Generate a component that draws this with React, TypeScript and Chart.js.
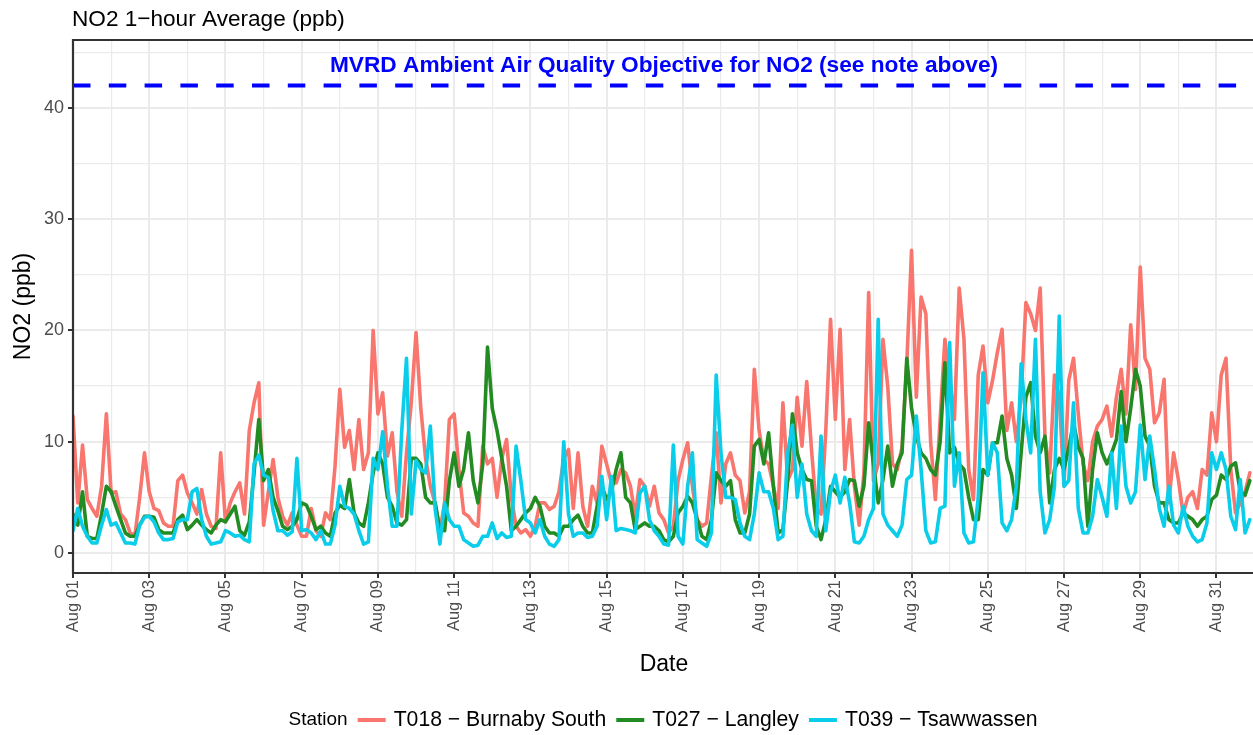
import React, { useEffect, useRef } from "react";
import { Chart, registerables } from "chart.js";

Chart.register(...registerables);

// ---- data (3-hourly readings, starting Aug 01 00:00) ----
const HOUR_STEP = 3;

const T018_BURNABY = [
  12.3, 4.5, 9.7, 4.8, 4.0, 3.3, 6.0, 12.5,
  5.4, 5.5, 3.5, 3.0, 1.8, 1.6, 5.0, 9.0,
  5.5, 4.0, 3.8, 2.7, 2.4, 2.4, 6.5, 7.0,
  5.4, 4.5, 3.5, 5.7, 3.5, 2.4, 2.2, 9.0,
  2.8, 4.5, 5.5, 6.3, 3.5, 11.0, 13.5, 15.3,
  2.5, 5.5, 8.4, 5.0, 3.3, 2.5, 3.6, 2.5,
  1.5, 1.5, 4.0, 2.0, 1.5, 3.6, 3.0, 7.8,
  14.7, 9.5, 11.0, 7.5, 12.0, 7.5, 9.0, 20.0,
  12.5, 14.4, 8.7, 10.8, 5.5, 3.3, 9.0, 13.5,
  19.8, 13.0, 8.5, 6.0, 4.5, 2.0, 4.5, 12.0,
  12.5, 7.5, 3.6, 3.3, 2.7, 2.4, 9.6, 8.0,
  8.5, 5.0, 8.5, 10.2, 5.0, 2.4, 1.8, 2.1,
  1.5, 2.4, 4.5, 4.5, 3.9, 4.2, 5.5, 8.5,
  9.3, 4.0, 9.0, 4.2, 2.4, 6.0, 4.5, 9.6,
  8.0, 6.3, 6.3, 7.5, 7.2, 6.0, 3.3, 6.6,
  6.0, 4.2, 6.0, 3.6, 3.0, 1.8, 2.4, 6.5,
  8.4, 9.9, 6.0, 3.0, 2.4, 2.7, 6.9, 10.8,
  4.5, 8.0, 9.0, 7.0, 6.5, 3.6, 5.5, 16.5,
  11.0, 8.4, 8.0, 6.0, 4.0, 13.5, 6.5, 7.5,
  14.0, 9.6, 15.4, 9.3, 4.0, 3.5, 11.0, 21.0,
  12.0, 20.1, 7.5, 12.0, 6.0, 2.5, 7.2, 23.4,
  6.5, 8.0, 19.2, 15.0, 8.0, 7.5, 9.5, 17.0,
  27.2, 14.0, 23.0, 21.5, 10.0, 4.8, 12.0, 19.2,
  15.5, 12.0, 23.8, 19.2, 7.5, 4.8, 16.0, 18.6,
  13.5, 15.5, 18.0, 20.1, 11.0, 13.5, 10.0, 14.0,
  22.5, 21.5, 20.0, 23.8, 10.5, 7.2, 16.0, 14.0,
  6.0, 15.5, 17.5, 12.5, 8.0, 6.5, 10.0, 11.4,
  12.0, 13.2, 10.5, 14.0, 16.5, 12.5, 20.5, 14.7,
  25.7, 17.5, 16.5, 11.7, 12.6, 15.6, 4.5, 9.0,
  6.6, 3.5, 5.0, 5.5, 4.0, 7.5, 7.0, 12.6,
  10.0, 16.0, 17.5, 7.5, 3.6, 4.5, 5.5, 7.2,
];

const T027_LANGLEY = [
  3.5, 2.5, 5.5, 1.5, 1.3, 1.3, 3.5, 6.0,
  5.5, 4.2, 3.0, 1.8, 1.5, 1.5, 2.5, 3.3,
  3.3, 3.2, 2.1, 1.8, 1.8, 1.8, 3.0, 3.4,
  2.1, 2.5, 3.0, 2.5, 2.1, 1.8, 2.5, 3.0,
  2.8, 3.5, 4.2, 2.0, 1.6, 2.8, 7.2, 12.0,
  6.5, 7.5, 5.0, 3.8, 2.4, 2.1, 2.4, 3.0,
  4.5, 4.3, 3.3, 2.1, 2.4, 1.8, 1.5, 3.6,
  4.3, 4.0, 6.6, 3.6, 2.7, 2.4, 4.5, 7.2,
  9.0, 8.0, 5.0, 4.2, 2.7, 2.5, 3.0, 8.5,
  8.5, 8.0, 5.0, 4.5, 4.5, 2.1, 2.0, 6.5,
  9.0, 6.0, 7.5, 10.8, 6.5, 4.5, 8.0, 18.5,
  13.0, 11.0, 8.5, 6.0, 2.0, 2.4, 3.0, 3.6,
  4.0, 5.0, 4.2, 2.4, 1.8, 1.8, 1.5, 2.4,
  2.4, 3.0, 3.4, 2.4, 1.8, 1.8, 4.2, 6.0,
  4.8, 5.5, 7.5, 9.0, 5.0, 4.5, 2.1, 2.4,
  2.7, 2.4, 2.4, 2.0, 1.2, 1.0, 1.5, 3.6,
  4.2, 5.1, 4.5, 3.0, 1.5, 1.2, 3.0, 7.2,
  6.5, 6.0, 6.5, 3.0, 1.8, 1.8, 3.5, 9.6,
  10.2, 8.0, 10.8, 6.0, 1.8, 2.1, 6.5, 12.5,
  9.0, 7.5, 6.6, 6.5, 2.4, 1.2, 3.0, 6.0,
  5.5, 5.0, 5.5, 6.6, 6.5, 4.2, 6.0, 11.7,
  8.0, 4.5, 6.6, 9.6, 6.0, 8.0, 9.0, 17.5,
  13.0, 10.5, 9.0, 8.5, 7.5, 7.0, 10.0, 17.1,
  9.0, 9.5, 8.0, 7.5, 5.0, 3.0, 3.0, 7.5,
  7.0, 9.9, 9.9, 12.3, 8.5, 7.0, 4.0, 9.0,
  14.0, 15.3, 10.5, 9.0, 10.5, 4.5, 7.5, 8.5,
  7.5, 9.5, 11.7, 9.5, 8.5, 2.4, 7.5, 10.8,
  9.0, 8.0, 9.0, 10.2, 14.5, 10.0, 13.0, 16.5,
  15.0, 10.5, 9.6, 6.0, 4.5, 4.5, 3.0, 2.7,
  2.7, 3.6, 3.3, 3.0, 2.4, 3.0, 3.3, 4.8,
  5.2, 7.0, 6.6, 7.8, 8.1, 5.5, 5.2, 6.5,
];

const T039_TSAWWASSEN = [
  2.0, 4.0, 2.4, 1.5, 0.9, 0.9, 2.5, 3.9,
  2.5, 2.7, 1.8, 0.9, 0.9, 0.8, 2.5, 3.2,
  3.3, 2.8, 1.8, 1.2, 1.2, 1.3, 2.8, 3.0,
  3.0, 5.5, 5.8, 3.0, 1.5, 0.8, 0.9, 1.0,
  2.0, 1.8, 1.5, 1.6, 1.2, 1.0, 8.0, 8.8,
  7.0, 6.8, 3.8, 2.0, 2.0, 1.6, 1.9, 8.5,
  2.0, 2.1, 1.8, 1.2, 2.0, 0.8, 0.8, 2.5,
  6.0, 4.2, 4.0, 3.5, 2.0, 0.8, 1.0, 8.5,
  7.5, 10.9, 6.0, 2.4, 2.4, 11.0, 17.5, 3.5,
  8.3, 7.5, 7.2, 11.4, 4.0, 0.8, 4.5, 3.0,
  2.4, 2.4, 1.2, 0.9, 0.6, 0.7, 1.5, 1.5,
  2.7, 1.3, 1.8, 1.4, 1.5, 9.6, 6.5, 3.0,
  2.7, 1.8, 3.0, 1.5, 0.8, 0.6, 1.2, 10.0,
  3.5, 1.5, 1.8, 1.8, 1.4, 1.5, 2.4, 6.9,
  3.0, 6.9, 2.0, 2.2, 2.1, 2.0, 1.8, 5.4,
  6.0, 3.0, 2.0, 1.5, 0.8, 0.7, 9.7, 1.5,
  0.8, 6.0, 9.0, 1.2, 0.9, 0.6, 1.8, 16.0,
  9.0, 5.0, 5.0, 4.8, 2.7, 1.5, 1.2, 3.5,
  7.2, 5.5, 5.5, 4.0, 1.2, 1.5, 9.0, 11.5,
  5.0, 8.0, 3.5, 2.0, 1.5, 10.5, 2.0, 5.5,
  7.0, 4.5, 6.8, 4.5, 1.0, 0.9, 1.5, 3.0,
  4.0, 21.0, 3.5, 2.5, 2.0, 1.5, 2.5, 6.6,
  7.0, 12.3, 7.5, 2.0, 0.9, 1.0, 4.0, 4.2,
  18.9, 6.0, 9.0, 1.8, 0.9, 1.0, 5.0, 16.2,
  7.0, 9.9, 9.0, 2.7, 2.0, 3.0, 6.0, 17.0,
  12.0, 9.0, 19.2, 5.5, 1.8, 3.0, 6.0, 21.3,
  6.0, 6.5, 13.5, 4.0, 1.8, 1.8, 3.3, 6.6,
  5.0, 3.3, 9.0, 4.0, 11.4, 6.0, 4.5, 5.5,
  11.5, 6.6, 10.5, 7.5, 4.0, 2.4, 6.0, 2.5,
  1.8, 4.2, 2.4, 1.5, 1.0, 1.2, 2.7, 9.0,
  7.5, 9.0, 7.5, 3.3, 2.1, 6.6, 1.8, 3.0,
];

const HOURS = T018_BURNABY.map((_, i) => i * HOUR_STEP);

const STATION_NAMES = ["T018 \u2212 Burnaby South", "T027 \u2212 Langley", "T039 \u2212 Tsawwassen"];
const STATION_COLORS = ["#F8766D", "#228B22", "#0ACDEA"];

const OBJECTIVE_VALUE = 42;
const OBJECTIVE_LABEL = "MVRD Ambient Air Quality Objective for NO2 (see note above)";

const DAY_TICKS = Array.from({ length: 31 }, (_, i) => i * 24);
const DAY_LABELS = DAY_TICKS.map((_, i) => "Aug " + String(i + 1).padStart(2, "0"));
const Y_TICKS = [0, 5, 10, 15, 20, 25, 30, 35, 40, 45];

const X_MAX = 743;
const Y_MIN = -1.8;
const Y_MAX = 46.1;

const TITLE = "NO2 1\u2212hour Average (ppb)";
const X_TITLE = "Date";
const Y_TITLE = "NO2 (ppb)";
const LEGEND_TITLE = "Station";

const FONT = "'Liberation Sans', Arial, Helvetica, sans-serif";
const W = 1253;
const H = 735;

const toXY = (vals: number[]) => vals.map((v, i) => ({ x: HOURS[i], y: v }));

const overlayPlugin = {
  id: "overlay",
  afterDraw(chart: any) {
    const { ctx, chartArea: a, scales } = chart;
    const xs = scales.x;
    const ys = scales.y;
    ctx.save();

    // panel border
    ctx.strokeStyle = "#333333";
    ctx.lineWidth = 2.2;
    ctx.beginPath();
    ctx.moveTo(W + 5, a.top);
    ctx.lineTo(a.left, a.top);
    ctx.lineTo(a.left, a.bottom);
    ctx.lineTo(W + 5, a.bottom);
    ctx.stroke();

    // objective label
    ctx.fillStyle = "#0000FF";
    ctx.font = `bold 22.7px ${FONT}`;
    ctx.textAlign = "center";
    ctx.textBaseline = "alphabetic";
    ctx.fillText(OBJECTIVE_LABEL, xs.getPixelForValue(X_MAX / 2) + 1, ys.getPixelForValue(OBJECTIVE_VALUE) - 14);

    // plot title
    ctx.fillStyle = "#000000";
    ctx.font = `22.6px ${FONT}`;
    ctx.textAlign = "left";
    ctx.fillText(TITLE, a.left - 1, 26);

    // x title
    ctx.font = `23px ${FONT}`;
    ctx.textAlign = "center";
    ctx.fillText(X_TITLE, (a.left + a.right) / 2 + 1, 671);

    // y title
    ctx.save();
    ctx.translate(30, (a.top + a.bottom) / 2);
    ctx.rotate(-Math.PI / 2);
    ctx.textAlign = "center";
    ctx.fillText(Y_TITLE, 0, 0);
    ctx.restore();

    // legend
    const legendY = 720;
    const keyW = 32;
    const gapTitle = 8;
    const gapKey = 6;
    const gapItem = 8;
    ctx.font = `19px ${FONT}`;
    const titleW = ctx.measureText(LEGEND_TITLE).width;
    ctx.font = `21.2px ${FONT}`;
    const labelWs = STATION_NAMES.map((s) => ctx.measureText(s).width);
    const total =
      titleW + gapTitle + labelWs.reduce((s, w) => s + keyW + gapKey + w, 0) + gapItem * (STATION_NAMES.length - 1);
    let cx = (a.left + a.right) / 2 - total / 2;
    ctx.textBaseline = "middle";
    ctx.textAlign = "left";
    ctx.fillStyle = "#000000";
    ctx.font = `19px ${FONT}`;
    ctx.fillText(LEGEND_TITLE, cx, legendY);
    cx += titleW + gapTitle;
    ctx.font = `21.2px ${FONT}`;
    STATION_NAMES.forEach((name, i) => {
      ctx.strokeStyle = STATION_COLORS[i];
      ctx.lineWidth = 4;
      ctx.lineCap = "butt";
      ctx.beginPath();
      ctx.moveTo(cx + 2, legendY);
      ctx.lineTo(cx + keyW - 2, legendY);
      ctx.stroke();
      cx += keyW + gapKey;
      ctx.fillStyle = "#000000";
      ctx.fillText(name, cx, legendY);
      cx += labelWs[i] + gapItem;
    });

    ctx.restore();
  },
};

export default function App() {
  const canvasRef = useRef<HTMLCanvasElement | null>(null);

  useEffect(() => {
    const canvas = canvasRef.current;
    if (!canvas) return;
    const lineDs = (label: string, vals: number[], color: string, order: number) => ({
      label,
      data: toXY(vals),
      borderColor: color,
      backgroundColor: color,
      borderWidth: 3.6,
      pointRadius: 0,
      tension: 0,
      borderJoinStyle: "round" as const,
      borderCapStyle: "round" as const,
      order,
    });

    const chart = new Chart(canvas, {
      type: "line",
      data: {
        datasets: [
          {
            label: "objective",
            data: [
              { x: 0, y: OBJECTIVE_VALUE },
              { x: X_MAX, y: OBJECTIVE_VALUE },
            ],
            borderColor: "#0000FF",
            borderWidth: 4,
            borderDash: [17.5, 18.3],
            pointRadius: 0,
            order: 0,
          },
          lineDs(STATION_NAMES[2], T039_TSAWWASSEN, STATION_COLORS[2], 1),
          lineDs(STATION_NAMES[1], T027_LANGLEY, STATION_COLORS[1], 2),
          lineDs(STATION_NAMES[0], T018_BURNABY, STATION_COLORS[0], 3),
        ],
      },
      options: {
        animation: false,
        responsive: false,
        devicePixelRatio: 1,
        events: [],
        parsing: false,
        normalized: true,
        layout: { padding: { top: 40, left: 0, right: 0, bottom: 0 } },
        plugins: {
          legend: { display: false },
          tooltip: { enabled: false },
          title: { display: false },
        },
        scales: {
          x: {
            type: "linear",
            min: 0,
            max: X_MAX,
            afterBuildTicks: (s: any) => {
              s.ticks = DAY_TICKS.map((v) => ({ value: v }));
            },
            afterFit: (s: any) => {
              s.height = H - 573;
            },
            border: { display: false },
            grid: {
              color: "#EBEBEB",
              lineWidth: (c: any) => (c.tick && c.tick.value % 48 === 0 ? 2 : 1.2),
              tickColor: (c: any) => (c.tick && c.tick.value % 48 === 0 ? "#333333" : "rgba(0,0,0,0)"),
              tickWidth: 2,
              tickLength: 5,
            },
            ticks: {
              autoSkip: false,
              maxRotation: 90,
              minRotation: 90,
              padding: 2,
              color: "#4D4D4D",
              font: { family: FONT, size: 16.5 },
              callback: (_v: any, i: number) => (i % 2 === 0 ? DAY_LABELS[i] : ""),
            },
          },
          y: {
            type: "linear",
            min: Y_MIN,
            max: Y_MAX,
            afterBuildTicks: (s: any) => {
              s.ticks = Y_TICKS.map((v) => ({ value: v }));
            },
            afterFit: (s: any) => {
              s.width = 73;
            },
            border: { display: false },
            grid: {
              color: "#EBEBEB",
              lineWidth: (c: any) => (c.tick && c.tick.value % 10 === 0 ? 2 : 1.2),
              tickColor: (c: any) => (c.tick && c.tick.value % 10 === 0 ? "#333333" : "rgba(0,0,0,0)"),
              tickWidth: 2,
              tickLength: 5,
            },
            ticks: {
              padding: 4,
              color: "#4D4D4D",
              font: { family: FONT, size: 18 },
              callback: (v: any) => (Number(v) % 10 === 0 ? String(v) : ""),
            },
          },
        },
      },
      plugins: [overlayPlugin],
    } as any);

    return () => chart.destroy();
  }, []);

  return (
    <div style={{ position: "absolute", left: 0, top: 0, width: W, height: H, background: "#ffffff" }}>
      <canvas ref={canvasRef} width={W} height={H} style={{ width: W, height: H, display: "block" }} />
    </div>
  );
}
